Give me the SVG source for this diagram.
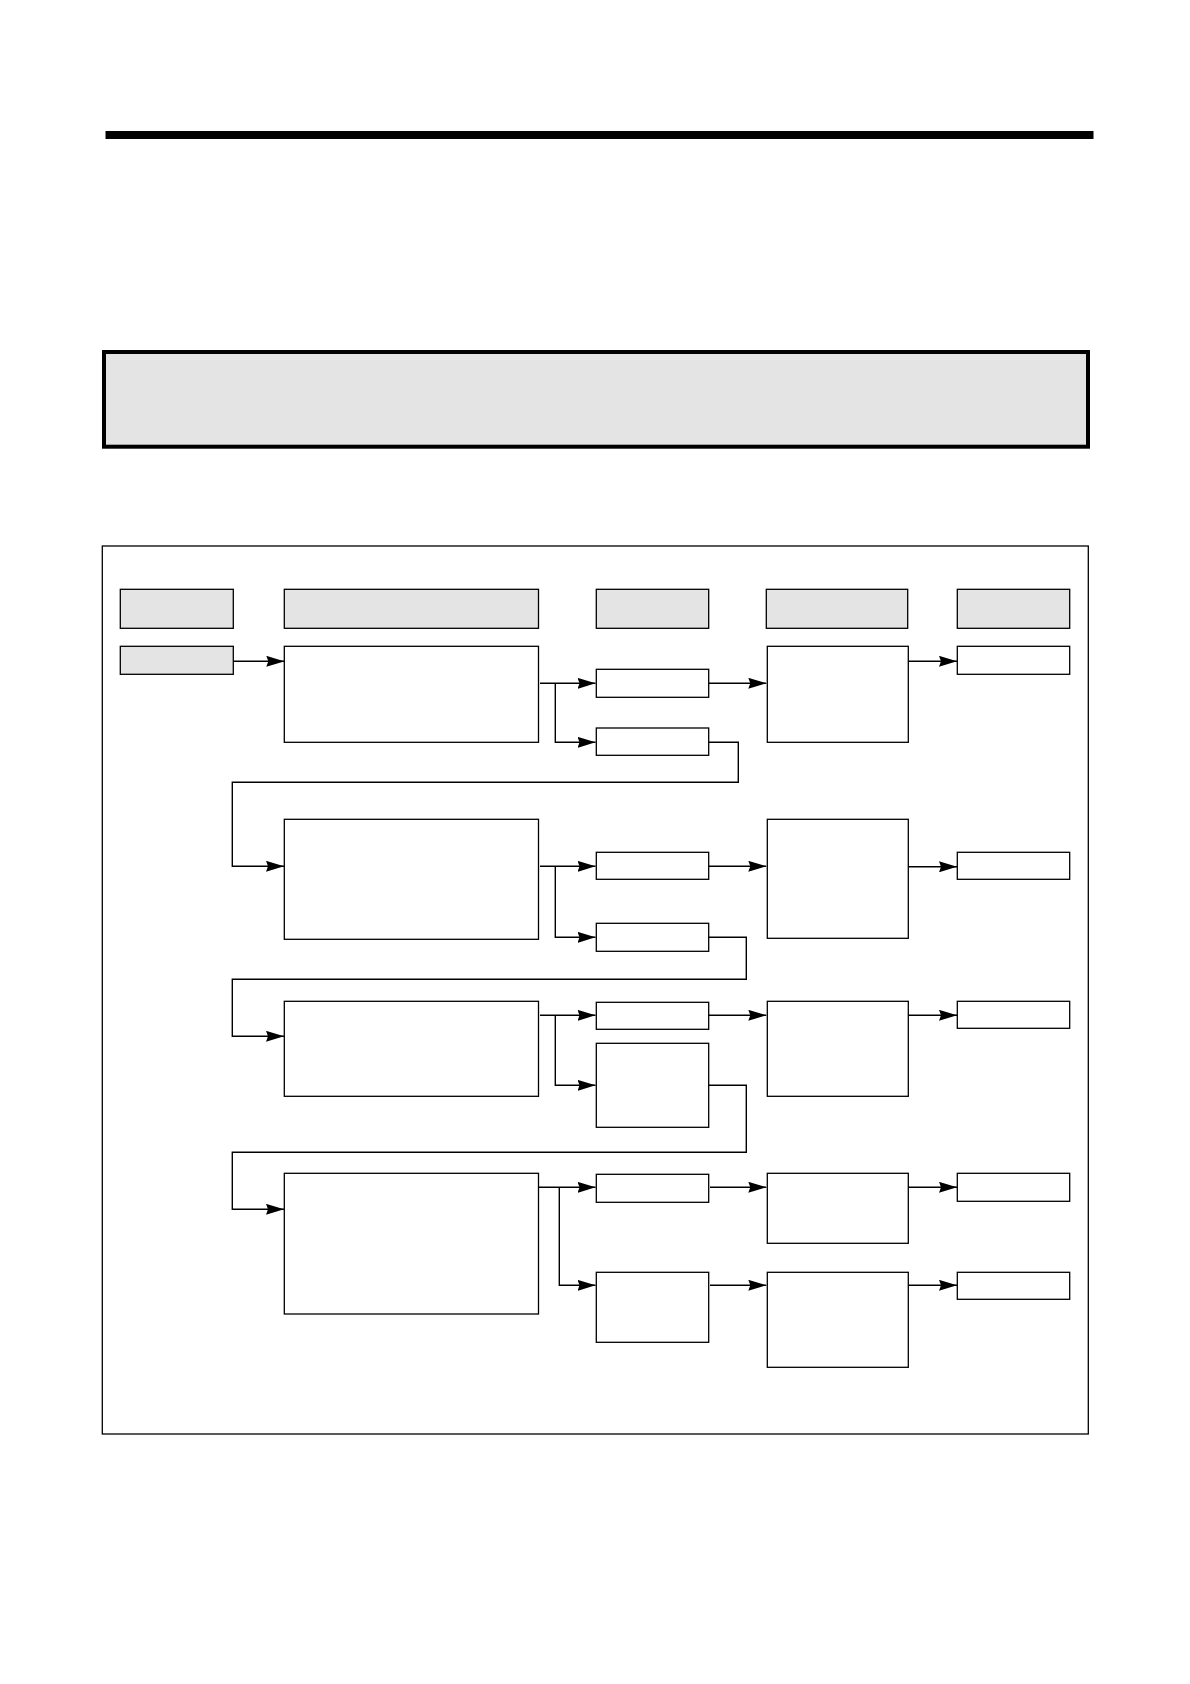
<svg xmlns="http://www.w3.org/2000/svg" width="1190" height="1684" viewBox="0 0 1190 1684">
  <style>
    .box { fill: #ffffff; stroke: #000; stroke-width: 1.3; }
    .gray { fill: #e4e4e4; stroke: #000; stroke-width: 1.3; }
    .conn { fill: none; stroke: #000; stroke-width: 1.4; }
    .arr { marker-end: url(#ah); }
  </style>
  <defs>
    <marker id="ah" viewBox="0 0 18 11" refX="18" refY="5.5" markerWidth="18" markerHeight="11" markerUnits="userSpaceOnUse" orient="auto">
      <path d="M0,0 L18,5.5 L0,11 L2,5.5 z" fill="#000"/>
    </marker>
  </defs>
  <rect width="1190" height="1684" fill="#ffffff"/>

  <g id="title-bar">
    <rect x="105.5" y="131" width="988" height="8" fill="#000"/>
  </g>
  <g id="banner">
    <rect x="104" y="352" width="984" height="94.7" fill="#e4e4e4" stroke="#000" stroke-width="4"/>
  </g>
  <g id="frame">
    <rect x="102.3" y="546" width="986" height="888" fill="none" stroke="#000" stroke-width="1.3"/>
  </g>

  <g id="headers">
    <g id="h1"><rect class="gray" x="120.3" y="589.3" width="113" height="39"/></g>
    <g id="h2"><rect class="gray" x="284.3" y="589.3" width="254.2" height="39"/></g>
    <g id="h3"><rect class="gray" x="596.3" y="589.3" width="112.4" height="39"/></g>
    <g id="h4"><rect class="gray" x="766.3" y="589.3" width="141.4" height="39"/></g>
    <g id="h5"><rect class="gray" x="957.3" y="589.3" width="112.4" height="39"/></g>
  </g>

  <g id="start"><rect class="gray" x="120.3" y="646.3" width="113" height="28"/></g>

  <g id="row1">
    <g id="b1"><rect class="box" x="284.3" y="646.3" width="254.2" height="96"/></g>
    <g id="c1a"><rect class="box" x="596.3" y="669.3" width="112.4" height="28"/></g>
    <g id="c1b"><rect class="box" x="596.3" y="728" width="112.4" height="27.3"/></g>
    <g id="d1"><rect class="box" x="767.3" y="646.3" width="141" height="96"/></g>
    <g id="e1"><rect class="box" x="957.3" y="646.3" width="112.4" height="28"/></g>
  </g>
  <g id="row2">
    <g id="b2"><rect class="box" x="284.3" y="819.3" width="254.2" height="120"/></g>
    <g id="c2a"><rect class="box" x="596.3" y="852.3" width="112.4" height="27"/></g>
    <g id="c2b"><rect class="box" x="596.3" y="923.3" width="112.4" height="28"/></g>
    <g id="d2"><rect class="box" x="767.3" y="819.3" width="141" height="119"/></g>
    <g id="e2"><rect class="box" x="957.3" y="852.3" width="112.4" height="27"/></g>
  </g>
  <g id="row3">
    <g id="b3"><rect class="box" x="284.3" y="1001.3" width="254.2" height="95"/></g>
    <g id="c3a"><rect class="box" x="596.3" y="1002.3" width="112.4" height="27"/></g>
    <g id="c3b"><rect class="box" x="596.3" y="1043.3" width="112.4" height="84"/></g>
    <g id="d3"><rect class="box" x="767.3" y="1001.3" width="141" height="95"/></g>
    <g id="e3"><rect class="box" x="957.3" y="1001.3" width="112.4" height="27"/></g>
  </g>
  <g id="row4">
    <g id="b4"><rect class="box" x="284.3" y="1173.3" width="254.2" height="140.7"/></g>
    <g id="c4a"><rect class="box" x="596.3" y="1174.3" width="112.4" height="28"/></g>
    <g id="c4b"><rect class="box" x="596.3" y="1272.3" width="112.4" height="70"/></g>
    <g id="d4a"><rect class="box" x="767.3" y="1173.3" width="141" height="70"/></g>
    <g id="d4b"><rect class="box" x="767.3" y="1272.3" width="141" height="95"/></g>
    <g id="e4a"><rect class="box" x="957.3" y="1173.3" width="112.4" height="28"/></g>
    <g id="e4b"><rect class="box" x="957.3" y="1272.3" width="112.4" height="27"/></g>
  </g>

  <g id="connectors">
    <path class="conn arr" d="M233.3,661.3 H284.3"/>
    <path class="conn arr" d="M540,683.3 H595.5"/>
    <path class="conn arr" d="M555.3,683.3 V742.3 H595.5"/>
    <path class="conn arr" d="M708.7,683.3 H766.3"/>
    <path class="conn arr" d="M908.3,661.3 H957"/>
    <path class="conn arr" d="M708.7,742.3 H738.3 V782.3 H232.3 V866.3 H284"/>

    <path class="conn arr" d="M540,866.3 H595.5"/>
    <path class="conn arr" d="M555.3,866.3 V937.3 H595.5"/>
    <path class="conn arr" d="M708.7,866.3 H766.3"/>
    <path class="conn arr" d="M908.3,866.8 H957"/>
    <path class="conn arr" d="M708.7,937.3 H746.3 V979.3 H232.3 V1036.3 H284"/>

    <path class="conn arr" d="M540,1015.3 H595.5"/>
    <path class="conn arr" d="M555.3,1015.3 V1085.3 H595.5"/>
    <path class="conn arr" d="M708.7,1015.3 H766.3"/>
    <path class="conn arr" d="M908.3,1015.3 H957"/>
    <path class="conn arr" d="M708.7,1085.3 H746.3 V1152.3 H232.3 V1209.3 H284"/>

    <path class="conn arr" d="M538.7,1187.3 H595.5"/>
    <path class="conn arr" d="M559.3,1187.3 V1285.3 H595.5"/>
    <path class="conn arr" d="M710,1187.3 H766.3"/>
    <path class="conn arr" d="M908.3,1187.3 H957"/>
    <path class="conn arr" d="M710,1285.3 H766.3"/>
    <path class="conn arr" d="M908.3,1285.3 H957"/>
  </g>
</svg>
